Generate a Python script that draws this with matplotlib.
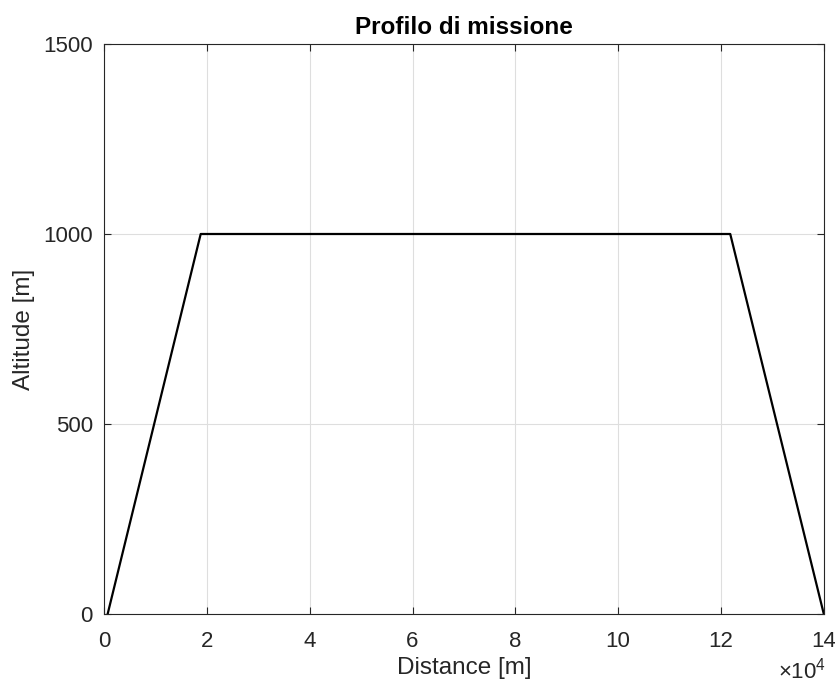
import numpy as np
import matplotlib
matplotlib.use("Agg")
import matplotlib.pyplot as plt

# mission profile: climb, cruise, descent
distance = [700, 18800, 121800, 140000]
altitude = [0, 1000, 1000, 0]

x_ticks = [0, 2, 4, 6, 8, 10, 12, 14]
y_ticks = [0, 500, 1000, 1500]

plt.rcParams['font.family'] = ['Liberation Sans', 'DejaVu Sans']

fig = plt.figure(figsize=(8.35, 6.84), dpi=100)
ax = fig.add_axes([0.1246, 0.1023, 0.862, 0.8334])

ax.plot(distance, altitude, color='k', linewidth=1.6)

ax.set_xlim(0, 140000)
ax.set_ylim(0, 1500)
ax.set_xticks([t * 1e4 for t in x_ticks])
ax.set_xticklabels([str(t) for t in x_ticks])
ax.set_yticks(y_ticks)

axis_col = '#262626'
for s in ax.spines.values():
    s.set_color(axis_col)
    s.set_linewidth(0.8)
ax.tick_params(direction='in', length=5, width=0.8, colors=axis_col,
               labelsize=16, top=True, right=True,
               labeltop=False, labelright=False)
ax.tick_params(axis='x', pad=12)
ax.tick_params(axis='y', pad=8)
ax.grid(True, color='#dedede', linewidth=0.8)
ax.set_axisbelow(True)

ax.set_xlabel("Distance [m]", fontsize=17.5, color=axis_col, labelpad=4)
ax.set_ylabel("Altitude [m]", fontsize=17.5, color=axis_col, labelpad=6)
ax.set_title("Profilo di missione", fontsize=17.5, fontweight='bold', pad=7)

# exponent for the x tick labels, bottom right corner
fig.text(0.989, 0.008, r"$\mathregular{\times10^4}$",
         ha='right', va='baseline', fontsize=16, color=axis_col)

fig.savefig("out.png", dpi=100)
